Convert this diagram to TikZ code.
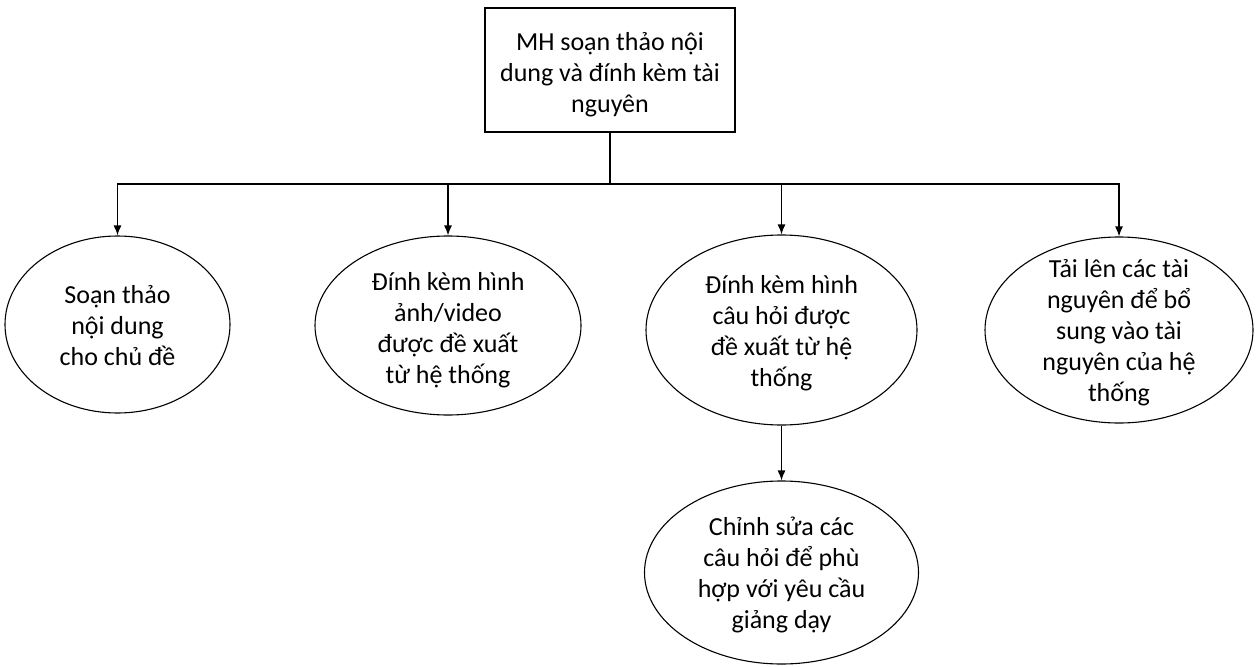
\documentclass[tikz,border=0pt]{standalone}
\usepackage{fontspec}
\setmainfont{Carlito}
\usetikzlibrary{shapes.geometric,arrows.meta}
\begin{document}
\begin{tikzpicture}[x=1pt,y=-1pt,
  label text/.style={font=\fontsize{26}{31}\selectfont, align=center, inner sep=0pt},
  topbox/.style={draw, line width=1.3pt, minimum width=250pt, minimum height=124pt, inner sep=0pt},
  bubble/.style={draw, ellipse, line width=1.1pt, inner sep=0pt},
  link/.style={line width=1.3pt},
  arr/.style={link, -{Latex[length=10pt,width=8pt]}}]
\useasboundingbox (0,0) rectangle (1257,666);
% root box
\node[topbox] (top) at (610,70) {};
\node[label text] (toptext) at (610,75) {MH soạn thảo nội\\dung và đính kèm tài\\nguyên};
% child bubbles (outline first, text placed inside)
\node[bubble, minimum width=225pt, minimum height=177pt] (e1) at (117.5,324.5) {};
\node[bubble, minimum width=266pt, minimum height=179pt] (e2) at (448,325.5) {};
\node[bubble, minimum width=271pt, minimum height=190pt] (e3) at (781.5,330) {};
\node[bubble, minimum width=268pt, minimum height=186pt] (e4) at (1119,330) {};
\node[bubble, minimum width=274pt, minimum height=183pt] (e5) at (781.5,572.5) {};
\node[label text] (t1) at (117.5,326) {Soạn thảo\\nội dung\\cho chủ đề};
\node[label text] (t2) at (448,330) {Đính kèm hình\\ảnh/video\\được đề xuất\\từ hệ thống};
\node[label text] (t3) at (781.5,333) {Đính kèm hình\\câu hỏi được\\đề xuất từ hệ\\thống};
\node[label text] (t4) at (1119,333) {Tải lên các tài\\nguyên để bổ\\sung vào tài\\nguyên của hệ\\thống};
\node[label text] (t5) at (781.5,575) {Chỉnh sửa các\\câu hỏi để phù\\hợp với yêu cầu\\giảng dạy};
% connectors
\coordinate (bus) at (610,184);
\draw[link] (top) -- (bus);
\draw[arr] (bus) -| (e1);
\draw[arr] (bus) -| (e2);
\draw[arr] (bus) -| (e3);
\draw[arr] (bus) -| (e4);
\draw[arr] (e3) -- (e5);
\end{tikzpicture}
\end{document}
